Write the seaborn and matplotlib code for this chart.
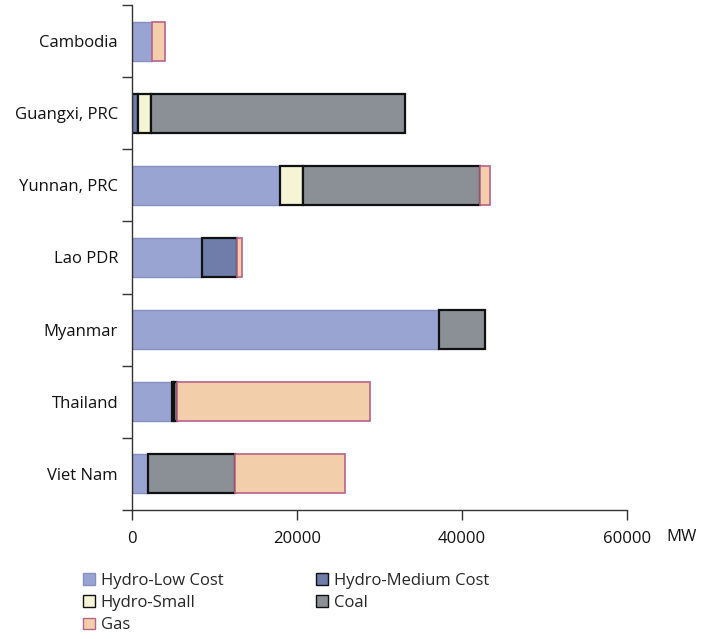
import numpy as np
import matplotlib
matplotlib.use("Agg")
import matplotlib.pyplot as plt
import seaborn as sns
from matplotlib.patches import Patch

regions = ["Cambodia", "Guangxi, PRC", "Yunnan, PRC", "Lao PDR", "Myanmar", "Thailand", "Viet Nam"]
hydro_low = [2450, 0, 17950, 8450, 37170, 4850, 1900]
hydro_medium = [0, 750, 0, 4320, 0, 250, 0]
hydro_small = [0, 1540, 2830, 0, 0, 0, 0]
coal = [0, 30800, 21450, 0, 5660, 400, 10630]
gas = [1600, 0, 1130, 600, 0, 23300, 13330]
series_names = ["Hydro-Low Cost", "Hydro-Medium Cost", "Hydro-Small", "Coal", "Gas"]
xticks = [0, 20000, 40000, 60000]

sns.set_theme(style="ticks")
plt.rcParams['font.family'] = ['Open Sans', 'DejaVu Sans']
FS = 12

fills = ["#99A4D2", "#6E7DAA", "#F5F5D5", "#8A9096", "#F2CFAA"]
edges = ["#8590C0", "#111111", "#111111", "#111111", "#B8628A"]
lws = [1.0, 1.6, 1.6, 1.6, 1.2]

fig = plt.figure(figsize=(7.07, 6.39), dpi=100)
ax = fig.add_axes([0.1867, 0.2019, 0.70, 0.7903])

data = [hydro_low, hydro_medium, hydro_small, coal, gas]
y = np.arange(len(regions))
left = np.zeros(len(regions))
for vals, fc, ec, lw in zip(data, fills, edges, lws):
    v = np.array(vals, dtype=float)
    ax.barh(y, v, left=left, height=0.54, color=fc, edgecolor=ec,
            linewidth=np.where(v > 0, lw, 0))
    left += v

ax.set_xlim(0, 60000)
ax.set_ylim(len(regions) - 0.5, -0.5)
ax.set_yticks(y)
ax.set_yticklabels(regions, fontsize=FS, color="#111111")
ax.set_yticks(np.arange(-0.5, len(regions)), minor=True)
ax.tick_params(axis="y", which="major", length=0, pad=10)
ax.tick_params(axis="y", which="minor", length=7, width=1, color="#333333")
ax.set_xticks(xticks)
ax.set_xticklabels([str(t) for t in xticks], fontsize=FS, color="#111111")
ax.tick_params(axis="x", length=7, width=1, color="#333333", pad=8)
for s in ["top", "right"]:
    ax.spines[s].set_visible(False)
for s in ["left", "bottom"]:
    ax.spines[s].set_color("#333333")
    ax.spines[s].set_linewidth(1)

fig.text(682 / 707, 1 - 537 / 639, "MW", fontsize=FS, ha="center", va="center", color="#111111")

handles = [Patch(facecolor=fc, edgecolor=("#111111" if i in (1, 2, 3) else ec), linewidth=1)
           for i, (fc, ec) in enumerate(zip(fills, edges))]
order = [0, 2, 4, 1, 3]
leg = fig.legend([handles[i] for i in order], [series_names[i] for i in order],
                 loc="upper left", bbox_to_anchor=(0.108, 1 - 566 / 639),
                 ncol=2, frameon=False, fontsize=FS, handlelength=0.7, handleheight=0.7,
                 handletextpad=0.35, columnspacing=5.6, labelspacing=0.38, borderaxespad=0)

fig.savefig("out.png", dpi=100)
